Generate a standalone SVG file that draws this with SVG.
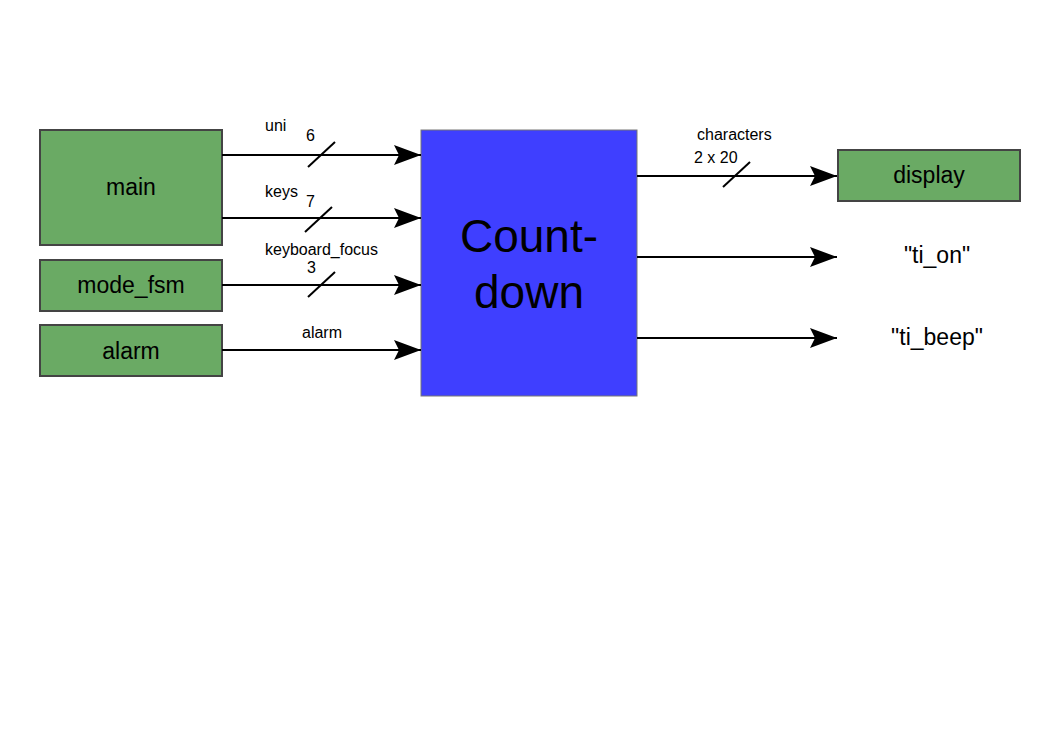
<svg xmlns="http://www.w3.org/2000/svg" width="1053" height="745" viewBox="0 0 1053 745">
<style>
.blk{fill:#6aaa64;stroke:#444;stroke-width:2}
.nt{font-family:"Liberation Sans",Arial,sans-serif;font-size:23px;fill:#000;text-anchor:middle}
.lb{font-family:"Liberation Sans",Arial,sans-serif;font-size:16px;fill:#000}
.w{stroke:#000;stroke-width:2;fill:none}
</style>
<defs>
<marker id="ah" markerWidth="27" markerHeight="20" refX="27" refY="10" orient="auto" markerUnits="userSpaceOnUse">
<path d="M0,0 L27,10 L0,20 L5,10 Z" fill="#000"/>
</marker>
</defs>
<rect width="1053" height="745" fill="#fff"/>
<g id="main"><rect class="blk" x="40" y="130" width="182" height="115"/><text class="nt" x="131" y="195">main</text></g>
<g id="mode_fsm"><rect class="blk" x="40" y="260" width="182" height="51"/><text class="nt" x="131" y="293">mode_fsm</text></g>
<g id="alarm"><rect class="blk" x="40" y="325" width="182" height="51"/><text class="nt" x="131" y="359">alarm</text></g>
<g id="countdown"><rect x="421" y="130" width="216" height="266" fill="#3f3fff" stroke="#777" stroke-width="1"/>
<text x="529" y="252" font-family="'Liberation Sans',Arial,sans-serif" font-size="46" text-anchor="middle">Count-</text>
<text x="529" y="308" font-family="'Liberation Sans',Arial,sans-serif" font-size="46" text-anchor="middle">down</text></g>
<g id="display"><rect class="blk" x="838" y="150" width="182" height="51"/><text class="nt" x="929" y="183">display</text></g>
<g id="ti_on"><text class="nt" x="937" y="263">"ti_on"</text></g>
<g id="ti_beep"><text class="nt" x="937" y="345">"ti_beep"</text></g>
<g id="connectors">
<line class="w" x1="222" y1="155" x2="421" y2="155" marker-end="url(#ah)"/>
<line class="w" x1="222" y1="218" x2="421" y2="218" marker-end="url(#ah)"/>
<line class="w" x1="222" y1="285" x2="421" y2="285" marker-end="url(#ah)"/>
<line class="w" x1="222" y1="350" x2="421" y2="350" marker-end="url(#ah)"/>
<line class="w" x1="637" y1="176" x2="837" y2="176" marker-end="url(#ah)"/>
<line class="w" x1="637" y1="257" x2="837" y2="257" marker-end="url(#ah)"/>
<line class="w" x1="637" y1="338" x2="837" y2="338" marker-end="url(#ah)"/>
<line class="w" x1="308" y1="167" x2="335" y2="142"/>
<line class="w" x1="305" y1="232" x2="332" y2="207"/>
<line class="w" x1="308" y1="297" x2="335" y2="272"/>
<line class="w" x1="723" y1="187" x2="750" y2="162"/>
<text class="lb" x="265" y="131">uni</text>
<text class="lb" x="306" y="141">6</text>
<text class="lb" x="265" y="197">keys</text>
<text class="lb" x="306" y="207">7</text>
<text class="lb" x="265" y="255">keyboard_focus</text>
<text class="lb" x="307" y="273">3</text>
<text class="lb" x="322" y="338" text-anchor="middle">alarm</text>
<text class="lb" x="697" y="140">characters</text>
<text class="lb" x="694" y="163">2 x 20</text>
</g>
</svg>
